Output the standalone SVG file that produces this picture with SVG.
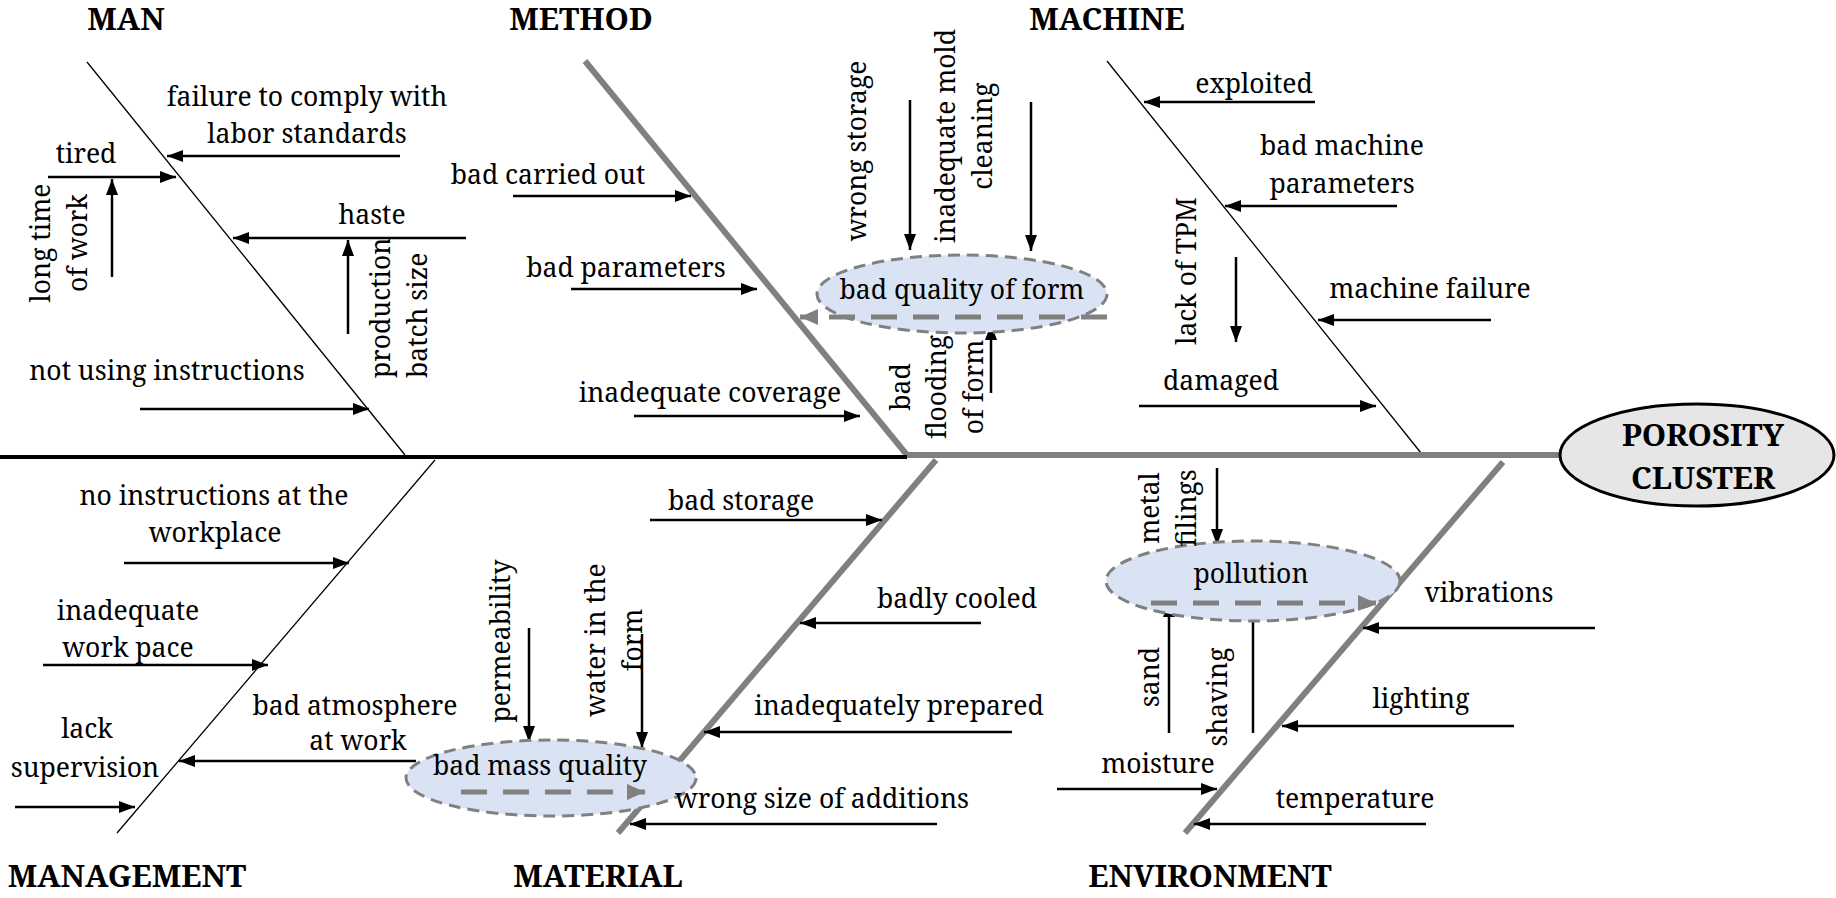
<svg xmlns="http://www.w3.org/2000/svg" width="1836" height="898" viewBox="0 0 1836 898">
<defs>
<marker id="ah" markerUnits="userSpaceOnUse" markerWidth="16" markerHeight="12" refX="16" refY="6" orient="auto"><path d="M0,0 L16,6 L0,12 z" fill="#000"/></marker>
<marker id="gh" markerUnits="userSpaceOnUse" markerWidth="18" markerHeight="16" refX="18" refY="8" orient="auto"><path d="M0,0 L18,8 L0,16 z" fill="#808080"/></marker>
</defs>
<style>
text{font-family:"Noto Serif","DejaVu Serif",serif;font-size:26.5px;fill:#000;text-anchor:middle}
.t{font-weight:bold;font-size:31px}
.a{stroke:#000;stroke-width:2.5;fill:none;marker-end:url(#ah)}
.thin{stroke:#000;stroke-width:1.3;fill:none}
.gb{stroke:#808080;stroke-width:6;fill:none}
.ga{stroke:#808080;stroke-width:5;stroke-dasharray:26 16;fill:none;marker-end:url(#gh)}
.sub{fill:#dae3f3;stroke:#808080;stroke-width:3;stroke-dasharray:12 7}
</style>
<rect width="1836" height="898" fill="#fff"/>

<g id="connectors">
<line class="thin" x1="87" y1="62" x2="405" y2="455"/>
<line class="gb" x1="585" y1="61" x2="907" y2="455"/>
<line class="thin" x1="1107" y1="61" x2="1421" y2="453"/>
<line class="thin" x1="435" y1="460" x2="117" y2="833"/>
<line class="gb" x1="936" y1="460" x2="618" y2="833"/>
<line class="gb" x1="1503" y1="462" x2="1185" y2="833"/>
<line stroke="#000" stroke-width="4" x1="0" y1="457" x2="907" y2="457"/>
<line class="gb" x1="907" y1="455" x2="1560" y2="455"/>

<line class="a" x1="400" y1="156" x2="167" y2="156"/>
<line class="a" x1="48" y1="177" x2="176" y2="177"/>
<line class="a" x1="112" y1="277" x2="112" y2="179"/>
<line class="a" x1="466" y1="238" x2="233" y2="238"/>
<line class="a" x1="348" y1="334" x2="348" y2="240"/>
<line class="a" x1="140" y1="409" x2="369" y2="409"/>

<line class="a" x1="513" y1="196" x2="691" y2="196"/>
<line class="a" x1="571" y1="289" x2="757" y2="289"/>
<line class="a" x1="634" y1="416" x2="860" y2="416"/>
<line class="a" x1="910" y1="100" x2="910" y2="250"/>
<line class="a" x1="1031" y1="102" x2="1031" y2="251"/>
<line class="a" x1="991" y1="393" x2="991" y2="324"/>

<line class="a" x1="1315" y1="102" x2="1144" y2="102"/>
<line class="a" x1="1397" y1="206" x2="1225" y2="206"/>
<line class="a" x1="1491" y1="320" x2="1318" y2="320"/>
<line class="a" x1="1236" y1="257" x2="1236" y2="342"/>
<line class="a" x1="1139" y1="406" x2="1376" y2="406"/>

<line class="a" x1="124" y1="563" x2="349" y2="563"/>
<line class="a" x1="43" y1="665" x2="268" y2="665"/>
<line class="a" x1="416" y1="761" x2="179" y2="761"/>
<line class="a" x1="15" y1="807" x2="135" y2="807"/>

<line class="a" x1="650" y1="520" x2="882" y2="520"/>
<line class="a" x1="981" y1="623" x2="800" y2="623"/>
<line class="a" x1="1012" y1="732" x2="704" y2="732"/>
<line class="a" x1="937" y1="824" x2="630" y2="824"/>
<line class="a" x1="529" y1="628" x2="529" y2="742"/>
<line class="a" x1="642" y1="634" x2="642" y2="748"/>

<line class="a" x1="1217" y1="468" x2="1217" y2="545"/>
<line class="a" x1="1169" y1="733" x2="1169" y2="601"/>
<line class="a" x1="1253" y1="733" x2="1253" y2="601"/>
<line class="a" x1="1595" y1="628" x2="1363" y2="628"/>
<line class="a" x1="1514" y1="726" x2="1282" y2="726"/>
<line class="a" x1="1057" y1="789" x2="1217" y2="789"/>
<line class="a" x1="1426" y1="824" x2="1194" y2="824"/>
</g>

<g id="sub-form">
<ellipse class="sub" cx="962" cy="294" rx="145" ry="39"/>
<text x="962" y="299">bad quality of form</text>
<line class="ga" x1="1107" y1="317" x2="800" y2="317"/>
</g>
<g id="sub-mass">
<ellipse class="sub" cx="551" cy="778" rx="145" ry="38"/>
<text x="540" y="775">bad mass quality</text>
<line class="ga" x1="461" y1="792" x2="645" y2="792"/>
</g>
<g id="sub-pollution">
<ellipse class="sub" cx="1253" cy="581" rx="147" ry="40"/>
<text x="1251" y="583">pollution</text>
<line class="ga" x1="1151" y1="603" x2="1376" y2="603"/>
</g>

<g id="effect">
<ellipse cx="1697" cy="455" rx="137" ry="51" fill="#e6e6e6" stroke="#000" stroke-width="3"/>
<text class="t" x="1703" y="446">POROSITY</text>
<text class="t" x="1703" y="489">CLUSTER</text>
</g>

<g id="cat-man"><text class="t" x="126" y="30">MAN</text></g>
<g id="cat-method"><text class="t" x="581" y="30">METHOD</text></g>
<g id="cat-machine"><text class="t" x="1107" y="30">MACHINE</text></g>
<g id="cat-management"><text class="t" x="127" y="887">MANAGEMENT</text></g>
<g id="cat-material"><text class="t" x="598" y="887">MATERIAL</text></g>
<g id="cat-environment"><text class="t" x="1210" y="887">ENVIRONMENT</text></g>

<g id="man-causes">
<text x="307" y="106">failure to comply with</text>
<text x="307" y="143">labor standards</text>
<text x="86" y="163">tired</text>
<text transform="translate(50,243) rotate(-90)">long time</text>
<text transform="translate(87,243) rotate(-90)">of work</text>
<text x="372" y="224">haste</text>
<text style="text-anchor:start" transform="translate(390,378) rotate(-90)">production</text>
<text style="text-anchor:start" transform="translate(427,378) rotate(-90)">batch size</text>
<text x="167" y="380">not using instructions</text>
</g>

<g id="method-causes">
<text x="548" y="184">bad carried out</text>
<text x="626" y="277">bad parameters</text>
<text x="710" y="402">inadequate coverage</text>
<text transform="translate(866,151) rotate(-90)">wrong storage</text>
<text transform="translate(955,136) rotate(-90)">inadequate mold</text>
<text transform="translate(992,136) rotate(-90)">cleaning</text>
<text transform="translate(910,387) rotate(-90)">bad</text>
<text transform="translate(946,387) rotate(-90)">flooding</text>
<text transform="translate(983,387) rotate(-90)">of form</text>
</g>

<g id="machine-causes">
<text x="1254" y="93">exploited</text>
<text x="1342" y="155">bad machine</text>
<text x="1342" y="193">parameters</text>
<text x="1430" y="298">machine failure</text>
<text transform="translate(1196,271) rotate(-90)">lack of TPM</text>
<text x="1221" y="390">damaged</text>
</g>

<g id="management-causes">
<text x="214" y="505">no instructions at the</text>
<text x="215" y="542">workplace</text>
<text x="128" y="620">inadequate</text>
<text x="128" y="657">work pace</text>
<text x="355" y="715">bad atmosphere</text>
<text x="358" y="750">at work</text>
<text x="87" y="738">lack</text>
<text x="85" y="777">supervision</text>
</g>

<g id="material-causes">
<text transform="translate(510,641) rotate(-90)">permeability</text>
<text transform="translate(605,640) rotate(-90)">water in the</text>
<text transform="translate(642,640) rotate(-90)">form</text>
<text x="741" y="510">bad storage</text>
<text x="957" y="608">badly cooled</text>
<text x="899" y="715">inadequately prepared</text>
<text x="822" y="808">wrong size of additions</text>
</g>

<g id="environment-causes">
<text transform="translate(1159,508) rotate(-90)">metal</text>
<text transform="translate(1196,508) rotate(-90)">filings</text>
<text transform="translate(1159,677) rotate(-90)">sand</text>
<text transform="translate(1227,697) rotate(-90)">shaving</text>
<text x="1489" y="602">vibrations</text>
<text x="1421" y="708">lighting</text>
<text x="1158" y="773">moisture</text>
<text x="1355" y="808">temperature</text>
</g>
</svg>
